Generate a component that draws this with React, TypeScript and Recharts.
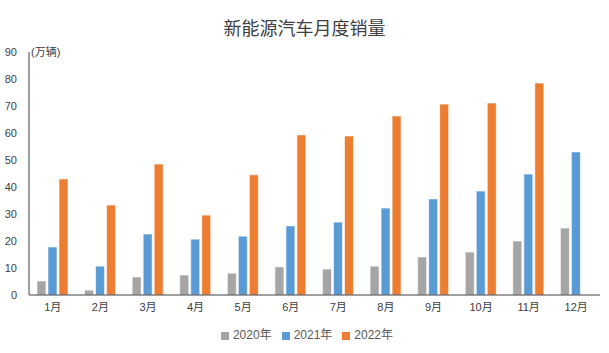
import { BarChart, Bar, XAxis, YAxis, Legend } from 'recharts';

const months = ['1月', '2月', '3月', '4月', '5月', '6月', '7月', '8月', '9月', '10月', '11月', '12月'];
const sales2020 = [5.2, 1.8, 6.7, 7.4, 8.1, 10.4, 9.6, 10.7, 14.1, 15.9, 20.0, 24.8];
const sales2021 = [17.8, 10.7, 22.6, 20.7, 21.8, 25.6, 27.0, 32.2, 35.6, 38.5, 44.8, 53.0];
const sales2022 = [43.0, 33.3, 48.5, 29.6, 44.5, 59.3, 58.9, 66.3, 70.7, 71.1, 78.5, null];
const yTicks = [0, 10, 20, 30, 40, 50, 60, 70, 80, 90];

const data = months.map((m, i) => ({
  month: m,
  y2020: sales2020[i],
  y2021: sales2021[i],
  y2022: sales2022[i],
}));

const FONT = '"Liberation Sans", "Noto Sans CJK SC", sans-serif';

const App = () => {
  return (
    <div style={{ position: 'absolute', left: 0, top: 0, width: 609, height: 353, background: '#fff', fontFamily: FONT }}>
      <div style={{ position: 'absolute', left: 0, top: 14, width: 609, textAlign: 'center', fontSize: 18, color: '#404040' }}>
        新能源汽车月度销量
      </div>
      <div style={{ position: 'absolute', left: 31, top: 43, fontSize: 11, color: '#404040' }}>(万辆)</div>
      <BarChart
        width={609}
        height={353}
        data={data}
        margin={{ top: 52, right: 9, bottom: 11, left: 0 }}
        barSize={9}
        barGap={2}
      >
        <XAxis
          dataKey="month"
          axisLine={{ stroke: '#404040' }}
          tickLine={false}
          tick={{ fontSize: 11, fill: '#404040', fontFamily: FONT }}
          height={30}
          interval={0}
        />
        <YAxis
          domain={[0, 90]}
          ticks={yTicks}
          width={29}
          axisLine={{ stroke: '#404040' }}
          tickLine={false}
          tick={{ fontSize: 11, fill: '#404040', fontFamily: FONT }}
          tickMargin={6}
        />
        <Legend
          verticalAlign="bottom"
          iconType="square"
          iconSize={8}
          wrapperStyle={{ fontSize: 12, color: '#595959', fontFamily: FONT, paddingLeft: 12 }}
          formatter={(value) => <span style={{ color: '#595959' }}>{value}</span>}
        />
        <Bar dataKey="y2020" name="2020年" fill="#A5A5A5" stroke="#fff" strokeOpacity={0.6} isAnimationActive={false} />
        <Bar dataKey="y2021" name="2021年" fill="#5B9BD5" stroke="#fff" strokeOpacity={0.6} isAnimationActive={false} />
        <Bar dataKey="y2022" name="2022年" fill="#ED7D31" stroke="#fff" strokeOpacity={0.6} isAnimationActive={false} />
      </BarChart>
    </div>
  );
};

export default App;
